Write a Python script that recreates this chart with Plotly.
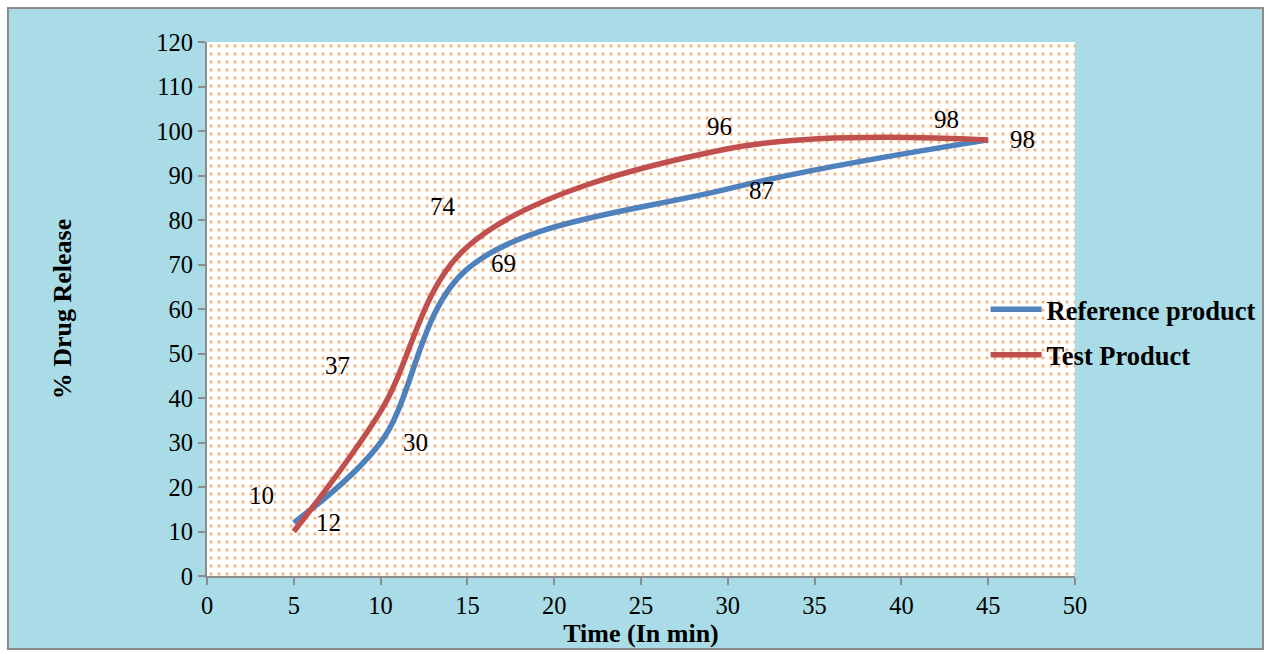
import plotly.graph_objects as go

time_min = [5, 10, 15, 30, 45]
reference_product = [12, 30, 69, 87, 98]
test_product = [10, 37, 74, 96, 98]
x_ticks = list(range(0, 55, 5))
y_ticks = list(range(0, 130, 10))

# label pixel offsets (style only)
ref_label_shift = [(35, 0), (35, 0), (36, -5), (34, 2), (34, 0)]
test_label_shift = [(-32, -36), (-43, -46), (-24, -40), (-8, -22), (-42, -20)]

FONT = "Liberation Serif, Times New Roman, serif"
BLUE = "#4f81bd"
RED = "#c0504d"

fig = go.Figure()

# dotted plot-area background
fig.add_trace(go.Scatter(
    x=[0, 50, 50, 0, 0], y=[0, 0, 120, 120, 0],
    mode="lines", line=dict(width=0), fill="toself",
    fillcolor="white",
    fillpattern=dict(shape=".", fgcolor="#f06a00", bgcolor="white", size=8, solidity=0.13),
    hoverinfo="skip", showlegend=False,
))

fig.add_trace(go.Scatter(
    x=time_min, y=reference_product, mode="lines", name="Reference product",
    line=dict(color=BLUE, width=5.5, shape="spline", smoothing=1.0),
    legendgroup="a",
))
fig.add_trace(go.Scatter(
    x=time_min, y=test_product, mode="lines", name="Test Product",
    line=dict(color=RED, width=5.5, shape="spline", smoothing=1.0),
    legendgroup="b",
))

for xv, yv, (dx, dy) in zip(time_min, reference_product, ref_label_shift):
    fig.add_annotation(x=xv, y=yv, text=str(yv), showarrow=False, xshift=dx, yshift=-dy,
                       font=dict(family=FONT, size=25, color="black"))
for xv, yv, (dx, dy) in zip(time_min, test_product, test_label_shift):
    fig.add_annotation(x=xv, y=yv, text=str(yv), showarrow=False, xshift=dx, yshift=-dy,
                       font=dict(family=FONT, size=25, color="black"))

# outer textured-look frame
fig.add_shape(type="rect", xref="paper", yref="paper",
              x0=-0.2293, x1=1.2166, y0=-0.1367, y1=1.0637,
              fillcolor="#a9dce6", line=dict(color="#8c8c8c", width=2), layer="below")

fig.update_layout(
    width=1270, height=654,
    margin=dict(l=207, r=195, t=42, b=78, autoexpand=False),
    paper_bgcolor="white", plot_bgcolor="white",
    font=dict(family=FONT, size=24.5, color="black"),
    showlegend=True,
    legend=dict(x=0.897, y=0.457, xanchor="left", yanchor="middle",
                bgcolor="rgba(0,0,0,0)", font=dict(family=FONT, size=26.5, color="black", weight="bold"),
                tracegroupgap=8, traceorder="grouped", itemwidth=51),
    xaxis=dict(range=[0, 50], tickvals=x_ticks, showgrid=False, zeroline=False,
               showline=True, linecolor="#8c8c8c", linewidth=2,
               ticks="outside", ticklen=7, tickcolor="#8c8c8c", tickwidth=2,
               tickfont=dict(family=FONT, size=24.5),
               title=dict(text="Time (In min)", font=dict(family=FONT, size=26, weight="bold"), standoff=0)),
    yaxis=dict(range=[0, 120], tickvals=y_ticks, showgrid=False, zeroline=False,
               showline=True, linecolor="#8c8c8c", linewidth=2,
               ticks="outside", ticklen=7, tickcolor="#8c8c8c", tickwidth=2,
               tickfont=dict(family=FONT, size=24.5),
               title=dict(text="% Drug Release", font=dict(family=FONT, size=26, weight="bold"), standoff=77)),
)

fig.write_html("out.html")
